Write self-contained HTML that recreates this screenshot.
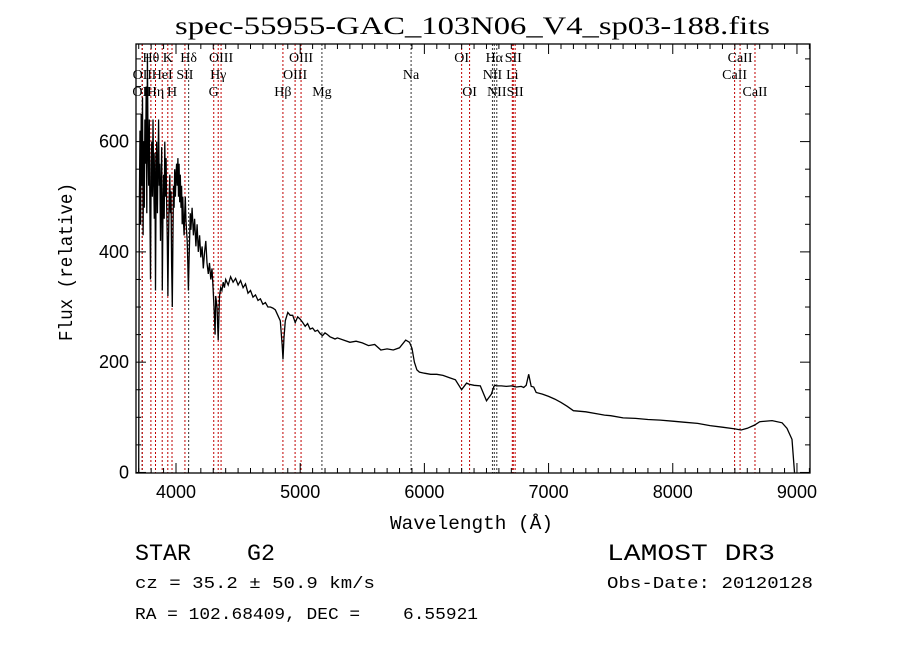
<!DOCTYPE html>
<html><head><meta charset="utf-8"><style>
body{margin:0;background:#fff}
svg{display:block}
</style></head><body>
<svg id="chart" width="900" height="649" viewBox="0 0 900 649" xmlns="http://www.w3.org/2000/svg">
<rect width="900" height="649" fill="#fff"/>
<text x="175" y="34" font-family="Liberation Serif, serif" font-size="25" textLength="595" lengthAdjust="spacingAndGlyphs">spec-55955-GAC_103N06_V4_sp03-188.fits</text>
<g id="lines"></g>
<g id="labels"></g>
<g id="spec"></g>
<g id="axes"></g>
<text x="390" y="529" font-family="Liberation Mono, monospace" font-size="19" textLength="163" lengthAdjust="spacingAndGlyphs">Wavelength (Å)</text>
<text transform="translate(72,341) rotate(-90)" font-family="Liberation Mono, monospace" font-size="19" textLength="158" lengthAdjust="spacingAndGlyphs">Flux (relative)</text>
<text x="135" y="560" font-family="Liberation Mono, monospace" font-size="23" textLength="140" lengthAdjust="spacingAndGlyphs" xml:space="preserve">STAR    G2</text>
<text x="607" y="560" font-family="Liberation Mono, monospace" font-size="23" textLength="168" lengthAdjust="spacingAndGlyphs">LAMOST DR3</text>
<text x="135" y="588" font-family="Liberation Mono, monospace" font-size="17" textLength="240" lengthAdjust="spacingAndGlyphs">cz = 35.2 ± 50.9 km/s</text>
<text x="607" y="588" font-family="Liberation Mono, monospace" font-size="17" textLength="206" lengthAdjust="spacingAndGlyphs">Obs-Date: 20120128</text>
<text x="135" y="619" font-family="Liberation Mono, monospace" font-size="17" textLength="343" lengthAdjust="spacingAndGlyphs" xml:space="preserve">RA = 102.68409, DEC =    6.55921</text>
</svg>
<script>
const wave = [3700,3702,3705,3710,3715,3720,3725,3730,3735,3740,3745,3750,3755,3760,3765,3770,3775,3780,3785,3790,3795,3800,3805,3810,3815,3820,3825,3830,3835,3840,3845,3850,3855,3860,3865,3870,3875,3880,3885,3890,3895,3900,3905,3910,3915,3920,3925,3930,3935,3940,3945,3950,3955,3960,3965,3970,3975,3980,3985,3990,3995,4000,4005,4010,4015,4020,4025,4030,4035,4040,4045,4050,4055,4060,4065,4070,4075,4080,4085,4090,4095,4100,4105,4110,4115,4120,4130,4140,4150,4160,4170,4180,4190,4200,4210,4220,4230,4240,4250,4260,4270,4280,4290,4300,4310,4315,4320,4330,4340,4350,4360,4370,4380,4390,4400,4420,4440,4460,4480,4500,4520,4540,4560,4580,4600,4620,4640,4660,4680,4700,4720,4740,4760,4780,4800,4820,4840,4855,4862,4870,4880,4900,4920,4940,4960,4980,5000,5020,5040,5060,5080,5100,5120,5140,5160,5180,5200,5220,5240,5260,5280,5300,5350,5400,5450,5500,5550,5600,5650,5700,5750,5800,5850,5880,5900,5920,5940,5960,6000,6050,6100,6150,6200,6250,6300,6340,6360,6400,6450,6500,6540,6560,6570,6580,6620,6660,6700,6740,6780,6800,6820,6840,6860,6880,6890,6900,6950,7000,7050,7100,7150,7200,7300,7400,7450,7500,7600,7700,7800,7900,8000,8100,8200,8300,8400,8500,8550,8600,8660,8700,8800,8880,8920,8960,8980,8990,8995];
const flux = [0,280,500,620,450,650,520,680,430,600,480,640,560,700,470,760,600,520,640,480,350,560,600,500,640,540,460,580,330,520,600,470,560,640,520,560,420,520,590,330,480,540,460,600,500,570,480,420,320,420,500,540,470,510,380,300,420,520,480,550,500,540,560,520,570,500,560,490,540,480,520,450,500,460,430,470,500,460,440,420,380,330,380,430,470,440,480,430,460,410,450,400,430,390,410,370,400,420,380,360,380,350,370,330,280,250,320,300,240,320,335,330,345,335,350,340,355,345,352,340,348,335,342,325,330,318,322,312,315,305,308,300,300,298,295,285,275,230,205,245,275,290,285,285,272,282,278,272,265,270,260,262,256,258,252,248,253,250,246,244,242,244,240,236,238,235,230,232,222,224,222,226,240,236,225,200,186,182,180,178,178,176,172,168,150,162,160,158,157,130,142,156,158,157,157,156,157,155,156,154,158,178,156,155,150,145,142,138,133,127,120,112,110,106,104,103,99,98,96,95,93,91,89,85,82,79,77,80,86,92,94,90,80,60,0];
const markWave = [3727,3729,3798,3835,3889,3934,3968,4072,4102,4304,4340,4363,4861,4959,5007,5175,5893,6300,6364,6548,6563,6583,6708,6716,6731,8498,8542,8662];
const markColor = ['k','r','r','r','r','r','r','r','k','r','r','r','r','r','r','k','k','r','r','k','k','k','r','r','r','r','r','r'];
const labelText = ['OII','OII','Hθ','Hη','HeI','K','H','SII','Hδ','G','Hγ','OIII','Hβ','OIII','OIII','Mg','Na','OI','OI','NII','Hα','NII','Li','SII','SII','CaII','CaII','CaII'];
const labelRow = [2,1,0,2,1,0,2,1,0,2,1,0,2,1,0,2,1,0,2,1,0,2,1,0,2,1,0,2];
const xTicks = [4000,5000,6000,7000,8000,9000];
const yTicks = [0,200,400,600];

const X0=136,X1=810,Y0=44,Y1=473, W0=3678, W1=9105, F0=-1, F1=777;
const xs = w => X0+(w-W0)/(W1-W0)*(X1-X0);
const ys = f => Y1-(f-F0)/(F1-F0)*(Y1-Y0);
const NS='http://www.w3.org/2000/svg';
function mk(tag,parent,attrs){const e=document.createElementNS(NS,tag);for(const k in attrs)e.setAttribute(k,attrs[k]);parent.appendChild(e);return e;}

const gL=document.getElementById('lines'), gT=document.getElementById('labels');
markWave.forEach((w,i)=>{
  const l=mk('line',gL,{x1:xs(w),x2:xs(w),y1:Y0,y2:Y1,stroke:markColor[i]==='r'?'#c00000':'#333','stroke-width':1,'stroke-dasharray':'2,2'});
  
  
  const t=mk('text',gT,{x:xs(w),y:62+labelRow[i]*17,'text-anchor':'middle','font-family':'Liberation Serif, serif','font-size':14});
  t.textContent=labelText[i];
  
  
});

const gS=document.getElementById('spec');
let d='';
for(let i=0;i<wave.length;i++){const f=Math.max(F0,Math.min(F1,flux[i]));d+=(i?'L':'M')+xs(wave[i]).toFixed(1)+','+ys(f).toFixed(1);}
const p=mk('path',gS,{d:d,fill:'none',stroke:'#000','stroke-width':1.3});



const gA=document.getElementById('axes');
const fr=mk('rect',gA,{x:X0,y:Y0,width:X1-X0,height:Y1-Y0,fill:'none',stroke:'#000','stroke-width':1.3});


for(let w=3700;w<=9100;w+=100){
  const maj=w%1000===0, L=maj?10:5, x=xs(w);
  mk('line',gA,{x1:x,x2:x,y1:Y1,y2:Y1-L,stroke:'#000'});
  mk('line',gA,{x1:x,x2:x,y1:Y0,y2:Y0+L,stroke:'#000'});
}
for(let f=0;f<=750;f+=50){
  const maj=f%200===0, L=maj?10:5, y=ys(f);
  mk('line',gA,{x1:X0,x2:X0+L,y1:y,y2:y,stroke:'#000'});
  mk('line',gA,{x1:X1,x2:X1-L,y1:y,y2:y,stroke:'#000'});
}
xTicks.forEach(v=>{const t=mk('text',gA,{x:xs(v),y:Y1+25,'text-anchor':'middle','font-family':'Liberation Sans, sans-serif','font-size':18});t.textContent=v;
  
  });
yTicks.forEach(v=>{const t=mk('text',gA,{x:X0-7,y:ys(v)+6,'text-anchor':'end','font-family':'Liberation Sans, sans-serif','font-size':18});t.textContent=v;
  
  });
</script>
</body></html>
